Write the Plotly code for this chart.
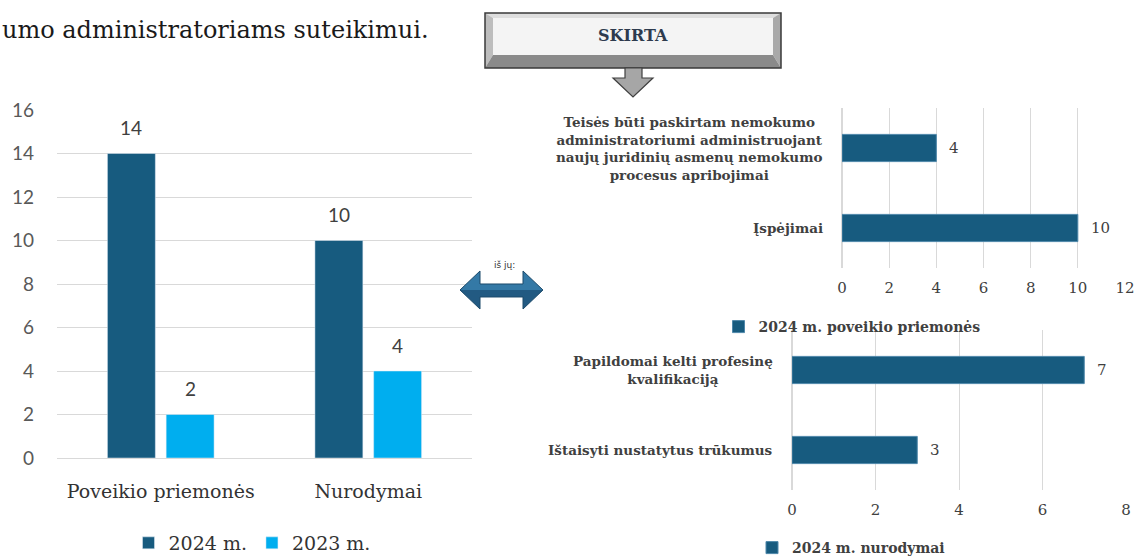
import plotly.graph_objects as go

# ---------------- data ----------------
categories = ["Poveikio priemonės", "Nurodymai"]
series_names = ["2024 m.", "2023 m."]
values_2024 = [14, 10]
values_2023 = [2, 4]

measures_labels = [
    "Teisės būti paskirtam nemokumo<br>administratoriumi administruojant<br>naujų juridinių asmenų nemokumo<br>procesus apribojimai",
    "Įspėjimai",
]
measures_values = [4, 10]
measures_name = "2024 m. poveikio priemonės"

orders_labels = ["Papildomai kelti profesinę<br>kvalifikaciją", "Ištaisyti nustatytus trūkumus"]
orders_values = [7, 3]
orders_name = "2024 m. nurodymai"

left_ticks = [0, 2, 4, 6, 8, 10, 12, 14, 16]
top_ticks = [0, 2, 4, 6, 8, 10, 12]
bottom_ticks = [0, 2, 4, 6, 8]

heading_text = "umo administratoriams suteikimui."
box_text = "SKIRTA"
arrow_text = "iš jų:"

# ---------------- styling ----------------
W, H = 1136, 556
DARK = "#175b7f"
LIGHT = "#00aeef"
GRID = "#d9d9d9"
SERIF = "DejaVu Serif"
SANS = "Lato"


def px(x):
    return x / W


def py(y):
    return 1 - y / H


BAR_W = 0.231
OFF_A = -0.257
OFF_B = 0.026

fig = go.Figure()

fig.add_trace(go.Bar(x=categories, y=values_2024, name=series_names[0], marker_color=DARK,
                     width=BAR_W, offset=OFF_A, xaxis="x", yaxis="y", legend="legend",
                     hoverinfo="skip"))
fig.add_trace(go.Bar(x=categories, y=values_2023, name=series_names[1], marker_color=LIGHT,
                     width=BAR_W, offset=OFF_B, xaxis="x", yaxis="y", legend="legend",
                     hoverinfo="skip"))
fig.add_trace(go.Bar(y=measures_labels, x=measures_values, orientation="h", name=measures_name,
                     marker=dict(color=DARK, line=dict(color="#4f88ab", width=1)),
                     width=0.34, xaxis="x2", yaxis="y2", legend="legend2", hoverinfo="skip"))
fig.add_trace(go.Bar(y=orders_labels, x=orders_values, orientation="h", name=orders_name,
                     marker=dict(color=DARK, line=dict(color="#4f88ab", width=1)),
                     width=0.34, xaxis="x3", yaxis="y3", legend="legend3", hoverinfo="skip"))

annotations = []
# value labels above the vertical bars
for i, v in enumerate(values_2024):
    annotations.append(dict(x=i + OFF_A + BAR_W / 2, y=v, xref="x", yref="y", text=str(v),
                            showarrow=False, yshift=26, yanchor="middle",
                            font=dict(family=SANS, size=19, color="#404040")))
for i, v in enumerate(values_2023):
    annotations.append(dict(x=i + OFF_B + BAR_W / 2, y=v, xref="x", yref="y", text=str(v),
                            showarrow=False, yshift=26, yanchor="middle",
                            font=dict(family=SANS, size=19, color="#404040")))

# horizontal charts: value labels and centred category labels
for labels, values, xr, yr in [(measures_labels, measures_values, "x2", "y2"),
                               (orders_labels, orders_values, "x3", "y3")]:
    for lab, v in zip(labels, values):
        annotations.append(dict(x=v, y=lab, xref=xr, yref=yr, text=str(v), showarrow=False,
                                xanchor="left", xshift=11,
                                font=dict(family=SERIF, size=15, color="#404040")))
        annotations.append(dict(x=0, y=lab, xref=xr + " domain", yref=yr, text=lab,
                                showarrow=False, xanchor="right", xshift=-17, align="center",
                                font=dict(family=SERIF, size=13.5, color="#404040", weight="bold")))

# heading text (cut paragraph of the page)
annotations.append(dict(x=px(0), y=py(30), xref="paper", yref="paper", text=heading_text,
                        showarrow=False, xanchor="left", yanchor="middle",
                        font=dict(family=SERIF, size=24, color="#1a1a1a")))
# SKIRTA box text
annotations.append(dict(x=px(633), y=py(35), xref="paper", yref="paper", text=box_text,
                        showarrow=False, xanchor="center", yanchor="middle",
                        font=dict(family=SERIF, size=16, color="#2e3b4e", weight="bold")))
# "iš jų:" over the double arrow
annotations.append(dict(x=px(504), y=py(265), xref="paper", yref="paper", text=arrow_text,
                        showarrow=False, xanchor="center", yanchor="middle",
                        bgcolor="rgba(255,255,255,0.9)", borderpad=0,
                        font=dict(family="DejaVu Sans", size=9, color="#333333")))


def path(points):
    return "M " + " L ".join(f"{px(x):.5f} {py(y):.5f}" for x, y in points) + " Z"


shapes = []
bx0, bx1, by0, by1 = 485, 781, 13, 68
ix0, ix1, iy0, iy1 = 493, 773, 18, 55
shapes.append(dict(type="path", xref="paper", yref="paper", line=dict(width=0), fillcolor="#dedede",
                   path=path([(bx0, by0), (bx1, by0), (ix1, iy0), (ix0, iy0)])))
shapes.append(dict(type="path", xref="paper", yref="paper", line=dict(width=0), fillcolor="#bdbdbd",
                   path=path([(bx0, by0), (ix0, iy0), (ix0, iy1), (bx0, by1)])))
shapes.append(dict(type="path", xref="paper", yref="paper", line=dict(width=0), fillcolor="#a9a9a9",
                   path=path([(bx1, by0), (bx1, by1), (ix1, iy1), (ix1, iy0)])))
shapes.append(dict(type="path", xref="paper", yref="paper", line=dict(width=0), fillcolor="#8a8a8a",
                   path=path([(bx0, by1), (bx1, by1), (ix1, iy1), (ix0, iy1)])))
shapes.append(dict(type="rect", xref="paper", yref="paper", x0=px(ix0), x1=px(ix1), y0=py(iy1), y1=py(iy0),
                   line=dict(width=0), fillcolor="#f4f4f4"))
shapes.append(dict(type="rect", xref="paper", yref="paper", x0=px(bx0), x1=px(bx1), y0=py(by1), y1=py(by0),
                   line=dict(width=1.5, color="#3a3a3a"), fillcolor="rgba(0,0,0,0)"))
# down arrow under the box
shapes.append(dict(type="path", xref="paper", yref="paper", fillcolor="#a6a6a6",
                   line=dict(width=1.2, color="#3f3f3f"),
                   path=path([(625, 68), (642, 68), (642, 78), (653, 78), (633, 97), (613, 78), (625, 78)])))
# double arrow between the charts (light upper half, darker lower half)
shapes.append(dict(type="path", xref="paper", yref="paper", fillcolor="#3479a6",
                   line=dict(width=0),
                   path=path([(460, 290), (480, 271), (480, 284), (523, 284), (523, 271), (543, 290)])))
shapes.append(dict(type="path", xref="paper", yref="paper", fillcolor="#225a82",
                   line=dict(width=0),
                   path=path([(460, 290), (543, 290), (523, 309), (523, 297), (480, 297), (480, 309)])))
shapes.append(dict(type="path", xref="paper", yref="paper", fillcolor="rgba(0,0,0,0)",
                   line=dict(width=1, color="#1d4b6b"),
                   path=path([(460, 290), (480, 271), (480, 284), (523, 284), (523, 271), (543, 290),
                              (523, 309), (523, 297), (480, 297), (480, 309)])))

fig.update_layout(
    width=W, height=H, autosize=False,
    margin=dict(l=0, r=0, t=0, b=0, autoexpand=False),
    paper_bgcolor="white", plot_bgcolor="white",
    barmode="overlay",
    annotations=annotations,
    shapes=shapes,
    xaxis=dict(domain=[px(57), px(472)], anchor="y", type="category", range=[-0.5, 1.5],
               showgrid=False, showline=False, zeroline=False, ticks="",
               tickfont=dict(family=SERIF, size=19, color="#333333"), ticklabelstandoff=20),
    yaxis=dict(domain=[py(458), py(110)], anchor="x", range=[0, 16], tickvals=left_ticks,
               showgrid=True, gridcolor=GRID, gridwidth=1.3, zeroline=True, zerolinecolor=GRID,
               zerolinewidth=1.3, showline=False, ticks="",
               tickfont=dict(family=SANS, size=19, color="#595959"), ticklabelstandoff=22),
    xaxis2=dict(domain=[px(842), px(1125)], anchor="y2", range=[0, 12], tickvals=top_ticks,
                showgrid=True, gridcolor=GRID, zeroline=True, zerolinecolor=GRID, showline=False,
                ticks="", tickfont=dict(family=SERIF, size=15, color="#404040"), ticklabelstandoff=9),
    yaxis2=dict(domain=[py(268), py(108)], anchor="x2", type="category", autorange="reversed",
                showticklabels=False, showgrid=False, zeroline=False, showline=False, ticks=""),
    xaxis3=dict(domain=[px(792), px(1126)], anchor="y3", range=[0, 8], tickvals=bottom_ticks,
                showgrid=True, gridcolor=GRID, zeroline=True, zerolinecolor=GRID, showline=False,
                ticks="", tickfont=dict(family=SERIF, size=15, color="#404040"), ticklabelstandoff=9),
    yaxis3=dict(domain=[py(490), py(330)], anchor="x3", type="category", autorange="reversed",
                showticklabels=False, showgrid=False, zeroline=False, showline=False, ticks=""),
    legend=dict(orientation="h", x=px(252), xanchor="center", y=py(543), yanchor="middle",
                font=dict(family=SERIF, size=19, color="#333333"), bgcolor="rgba(0,0,0,0)",
                traceorder="normal"),
    legend2=dict(orientation="h", x=px(852), xanchor="center", y=py(327), yanchor="middle",
                 font=dict(family=SERIF, size=14, color="#404040", weight="bold"),
                 bgcolor="rgba(0,0,0,0)"),
    legend3=dict(orientation="h", x=px(851), xanchor="center", y=py(548), yanchor="middle",
                 font=dict(family=SERIF, size=14, color="#404040", weight="bold"),
                 bgcolor="rgba(0,0,0,0)"),
    showlegend=True,
)

fig.write_html("out.html",
               config={"displayModeBar": False},
               post_script="document.body.style.margin='0';document.body.style.overflow='hidden';")
